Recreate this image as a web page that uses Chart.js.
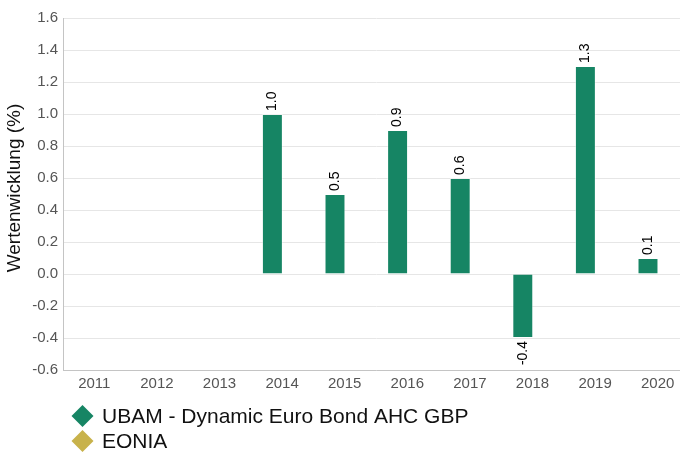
<!DOCTYPE html>
<html>
<head>
<meta charset="utf-8">
<script src="https://cdn.jsdelivr.net/npm/chart.js@4/dist/chart.umd.min.js"></script>
<style>
  html, body { margin: 0; padding: 0; background: #ffffff; overflow: hidden; }
  #wrap { width: 680px; height: 453px; position: relative; overflow: hidden; }
  #c { display: block; }
</style>
</head>
<body>
<div id="wrap"><canvas id="c" width="690" height="453"></canvas></div>
<script>
const categories = ['2011', '2012', '2013', '2014', '2015', '2016', '2017', '2018', '2019', '2020'];
const fundValues = [null, null, null, 1.0, 0.5, 0.9, 0.6, -0.4, 1.3, 0.1];
const eoniaValues = [null, null, null, null, null, null, null, null, null, null];
const seriesNames = ['UBAM - Dynamic Euro Bond AHC GBP', 'EONIA'];
const yAxisTitle = 'Wertenwicklung (%)';

const FONT = "'Liberation Sans', Arial, Helvetica, sans-serif";

const barLabelsPlugin = {
  id: 'barLabels',
  afterDatasetsDraw(chart) {
    const ctx = chart.ctx;
    chart.data.datasets.forEach((ds, di) => {
      const meta = chart.getDatasetMeta(di);
      if (meta.hidden) return;
      meta.data.forEach((el, i) => {
        const v = ds.data[i];
        if (v === null || v === undefined) return;
        ctx.save();
        ctx.font = '14px ' + FONT;
        ctx.fillStyle = '#000000';
        ctx.textBaseline = 'middle';
        ctx.translate(el.x, el.y + (v >= 0 ? -3 : 3));
        ctx.rotate(-Math.PI / 2);
        ctx.textAlign = v >= 0 ? 'left' : 'right';
        ctx.fillText(v.toFixed(1), 0, 0);
        ctx.restore();
      });
    });
  }
};

const axisTitlePlugin = {
  id: 'axisTitle',
  afterDraw(chart) {
    const ctx = chart.ctx;
    ctx.save();
    ctx.font = '19px ' + FONT;
    ctx.fillStyle = '#111111';
    ctx.textAlign = 'center';
    ctx.textBaseline = 'middle';
    ctx.translate(15, 188);
    ctx.rotate(-Math.PI / 2);
    ctx.fillText(yAxisTitle, 0, 0);
    ctx.restore();
  }
};

const legendPlugin = {
  id: 'customLegend',
  afterDraw(chart) {
    const ctx = chart.ctx;
    chart.data.datasets.forEach((ds, i) => {
      const cx = 82.5, cy = 416 + i * 25, r = 11;
      ctx.save();
      ctx.fillStyle = ds.legendColor;
      ctx.beginPath();
      ctx.moveTo(cx, cy - r);
      ctx.lineTo(cx + r, cy);
      ctx.lineTo(cx, cy + r);
      ctx.lineTo(cx - r, cy);
      ctx.closePath();
      ctx.fill();
      ctx.font = '21px ' + FONT;
      ctx.fillStyle = '#111111';
      ctx.textAlign = 'left';
      ctx.textBaseline = 'middle';
      ctx.fillText(ds.label, 102, cy + 1);
      ctx.restore();
    });
  }
};

new Chart(document.getElementById('c'), {
  type: 'bar',
  data: {
    labels: categories,
    datasets: [
      {
        label: seriesNames[0],
        data: fundValues,
        backgroundColor: '#168564',
        borderColor: 'rgba(255,255,255,0.45)',
        borderWidth: 1,
        legendColor: '#168564',
        barPercentage: 1.08,
        categoryPercentage: 0.62
      },
      {
        label: seriesNames[1],
        data: eoniaValues,
        backgroundColor: '#c8b24b',
        legendColor: '#c8b24b',
        barPercentage: 1.08,
        categoryPercentage: 0.62
      }
    ]
  },
  options: {
    responsive: false,
    animation: false,
    layout: { padding: { top: 18, right: 1, bottom: 55, left: 0 } },
    plugins: {
      legend: { display: false },
      tooltip: { enabled: false }
    },
    scales: {
      x: {
        grid: { display: false, drawTicks: false },
        border: { display: true, color: '#c4c4c4', width: 1 },
        ticks: { color: '#555555', font: { family: FONT, size: 15 }, padding: 5, maxRotation: 0 }
      },
      y: {
        min: -0.6,
        max: 1.6,
        afterFit(scale) { scale.width = 63; },
        grid: { color: '#e6e6e6', drawTicks: false },
        border: { display: true, color: '#c4c4c4', width: 1 },
        ticks: {
          stepSize: 0.2,
          color: '#555555',
          font: { family: FONT, size: 15 },
          padding: 5,
          callback: (v) => Number(v).toFixed(1)
        }
      }
    }
  },
  plugins: [barLabelsPlugin, axisTitlePlugin, legendPlugin]
});
</script>
</body>
</html>
